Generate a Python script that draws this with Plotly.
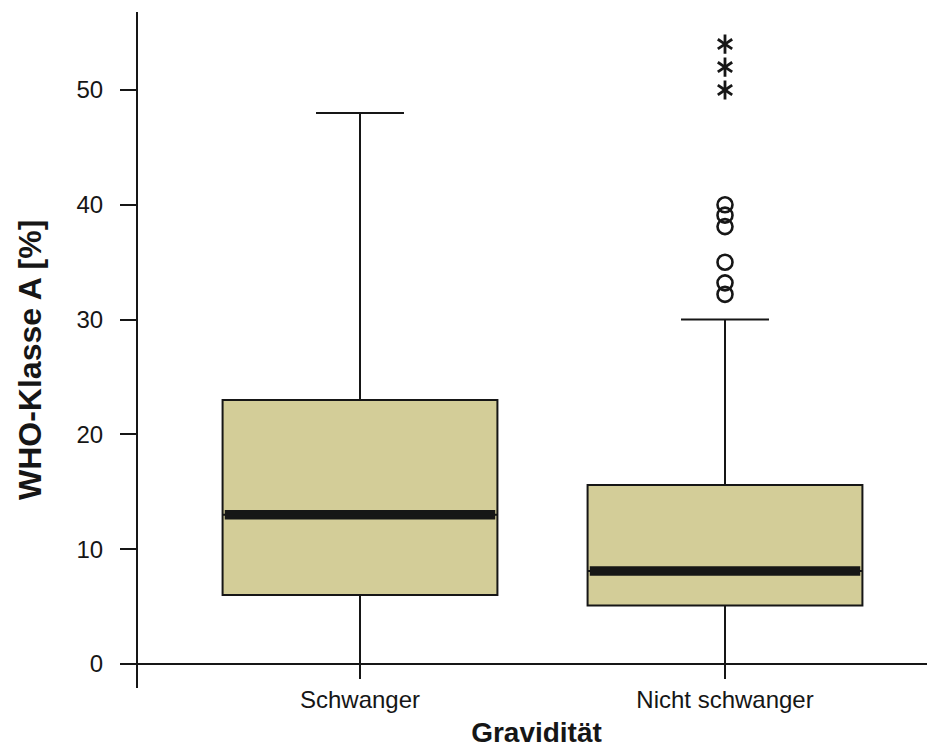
import plotly.graph_objects as go

categories = ["Schwanger", "Nicht schwanger"]
q1 = [6.0, 5.1]
medians = [13.0, 8.1]
q3 = [23.0, 15.6]
lower_fence = [0.0, 0.0]
upper_fence = [48.0, 30.0]
outliers_nicht = [32.2, 33.2, 35.0, 38.1, 39.1, 40.0]
extremes_nicht = [50.0, 52.0, 54.0]
y_ticks = [0, 10, 20, 30, 40, 50]

BOX_W = 0.753
FILL = "#D3CD98"
INK = "#161616"
FONT = "Liberation Sans, Arial, sans-serif"

xpos = list(range(len(categories)))

fig = go.Figure()
fig.add_trace(go.Box(
    x=xpos, q1=q1, median=medians, q3=q3,
    lowerfence=lower_fence, upperfence=upper_fence,
    width=BOX_W, whiskerwidth=0.32,
    fillcolor=FILL, line=dict(color=INK, width=2),
    boxpoints=False, showlegend=False, hoverinfo="skip",
))

# thick median bars
for i, m in enumerate(medians):
    fig.add_trace(go.Scatter(
        x=[xpos[i] - BOX_W / 2 + 0.006, xpos[i] + BOX_W / 2 - 0.006], y=[m, m],
        mode="lines", line=dict(color=INK, width=9.5),
        showlegend=False, hoverinfo="skip",
    ))

fig.add_trace(go.Scatter(
    x=[xpos[1]] * len(outliers_nicht), y=outliers_nicht, mode="markers",
    marker=dict(symbol="circle-open", size=15, color=INK, line=dict(width=2.6, color=INK)),
    showlegend=False, hoverinfo="skip",
))
# extreme values drawn as six-armed asterisks (two three-armed markers overlaid)
for sym in ["y-up-open", "y-down-open"]:
    fig.add_trace(go.Scatter(
        x=[xpos[1]] * len(extremes_nicht), y=extremes_nicht, mode="markers",
        marker=dict(symbol=sym, size=12, color=INK, line=dict(width=2.8, color=INK)),
        showlegend=False, hoverinfo="skip",
    ))

# page body has an 8px margin: the figure starts at (8, 8) in the window
OFF = 8
W, H = 935 - OFF, 751 - OFF
top_px, bot_px, zero_px, px_per_unit = 12, 688, 664, 11.48
ymin = -(bot_px - zero_px) / px_per_unit
ymax = (zero_px - top_px) / px_per_unit
left_px, right_px, c0_px, spacing = 138, 935, 360, 365
xmin = -(c0_px - left_px) / spacing
xmax = (right_px - c0_px) / spacing

fig.update_layout(
    width=W, height=H,
    margin=dict(l=left_px - OFF, r=935 - right_px, t=top_px - OFF, b=751 - bot_px),
    paper_bgcolor="white", plot_bgcolor="white",
    font=dict(family=FONT, color=INK),
    xaxis=dict(
        range=[xmin, xmax], tickvals=xpos, ticktext=categories,
        anchor="free", position=(bot_px - zero_px) / (bot_px - top_px),
        showline=True, linecolor=INK, linewidth=2, automargin=False,
        ticks="outside", ticklen=14, tickwidth=2, tickcolor=INK,
        tickfont=dict(size=24, color=INK), showgrid=False, zeroline=False,
        title=dict(text="<b>Gravidität</b>", font=dict(size=28, color=INK), standoff=10),
    ),
    yaxis=dict(
        range=[ymin, ymax], tickvals=y_ticks,
        showline=True, linecolor=INK, linewidth=2, automargin=False,
        ticks="outside", ticklen=16, tickwidth=2, tickcolor=INK,
        ticklabelstandoff=12,
        tickfont=dict(size=24, color=INK), showgrid=False, zeroline=False,
    ),
    annotations=[dict(
        text="<b>WHO-Klasse A [%]</b>", textangle=-90, showarrow=False,
        xref="paper", yref="paper",
        x=(30 - left_px) / (right_px - left_px), y=(bot_px - 360) / (bot_px - top_px),
        xanchor="center", yanchor="middle",
        font=dict(size=32, color=INK, family=FONT),
    )],
)

fig.write_html("out.html")
